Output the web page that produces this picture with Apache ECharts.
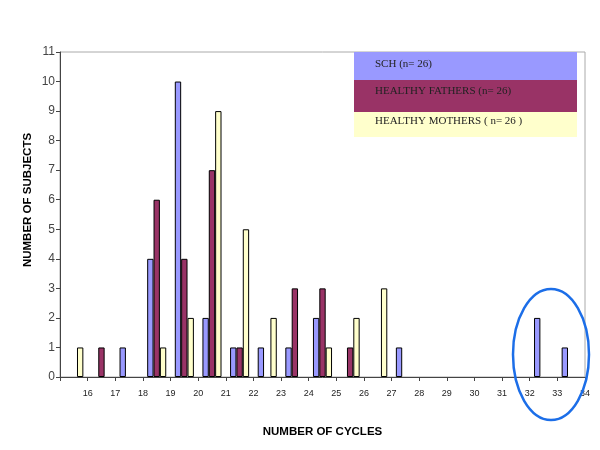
<!DOCTYPE html>
<html>
<head>
<meta charset="utf-8">
<script src="https://cdn.jsdelivr.net/npm/echarts@6/dist/echarts.min.js"></script>
<style>
  html, body { margin: 0; padding: 0; background: #fff; }
  #main { width: 600px; height: 450px; }
</style>
</head>
<body>
<div id="main"></div>
<script>
// cycle bins (one band each), tick labels sit on the band edges
const categories = ['15','16','17','18','19','20','21','22','23','24','25','26','27','28','29','30','31','32','33']
const tickLabels = [16,17,18,19,20,21,22,23,24,25,26,27,28,29,30,31,32,33,34]
const sch     = [0,0,1,4,10,2,1,1,1,2,0,0,1,0,0,0,0,2,1]
const fathers = [0,1,0,6,4,7,1,0,3,3,1,0,0,0,0,0,0,0,0]
const mothers = [1,0,0,1,2,9,5,2,0,1,2,3,0,0,0,0,0,0,0]
const seriesNames = ['SCH (n= 26)', 'HEALTHY FATHERS (n= 26)', 'HEALTHY MOTHERS ( n= 26 )']
const colors = ['#9999FF', '#993366', '#FFFFCC']

const myChart = echarts.init(document.getElementById('main'))

function barSeries(name, data, color) {
  return {
    name: name,
    type: 'bar',
    xAxisIndex: 0,
    // empty bins: no bar at all (a zero bar would leave a border stub)
    data: data.map(v => v === 0 ? '-' : v),
    barGap: '0%',
    barCategoryGap: '31%',
    itemStyle: { color: color, borderColor: '#000', borderWidth: 1 }
  }
}

const titleFont = { fontFamily: 'Arial, Liberation Sans, sans-serif', fontSize: 11.5, fontWeight: 'bold', color: '#000' }

const option = {
  animation: false,
  grid: { left: 60, right: 15, top: 52, bottom: 73, show: true, borderColor: '#aaa', borderWidth: 1 },
  xAxis: [{
    type: 'category',
    data: categories,
    axisLine: { show: false },
    axisTick: { show: false },
    axisLabel: { show: false }
  }, {
    // label axis: ticks and labels on the band edges
    type: 'value',
    position: 'bottom',
    min: 15,
    max: 34,
    interval: 1,
    splitLine: { show: false },
    axisLine: { lineStyle: { color: '#444', width: 1 } },
    axisTick: { length: 4, lineStyle: { color: '#444' } },
    axisLabel: {
      fontFamily: 'Arial, Liberation Sans, sans-serif',
      fontSize: 9,
      color: '#222',
      margin: 12,
      formatter: function (v) { return tickLabels.indexOf(v) >= 0 ? String(v) : '' }
    },
    name: 'NUMBER OF CYCLES',
    nameLocation: 'middle',
    nameGap: 49,
    nameTextStyle: titleFont
  }],
  yAxis: {
    type: 'value',
    min: 0,
    max: 11,
    interval: 1,
    splitLine: { show: false },
    axisLine: { show: true, lineStyle: { color: '#444', width: 1 } },
    axisTick: { show: true, length: 4, lineStyle: { color: '#444' } },
    axisLabel: { fontFamily: 'Arial, Liberation Sans, sans-serif', fontSize: 12, color: '#444', margin: 5 }
  },
  series: [
    barSeries(seriesNames[0], sch, colors[0]),
    barSeries(seriesNames[1], fathers, colors[1]),
    barSeries(seriesNames[2], mothers, colors[2])
  ],
  //图例色块 + 纵轴标题 + 圈注
  graphic: [
    { type: 'rect', left: 354, top: 52, shape: { width: 223, height: 28 }, style: { fill: colors[0] } },
    { type: 'rect', left: 354, top: 80, shape: { width: 223, height: 32 }, style: { fill: colors[1] } },
    { type: 'rect', left: 354, top: 112, shape: { width: 223, height: 25 }, style: { fill: colors[2] } },
    { type: 'text', left: 375, top: 59, style: { text: seriesNames[0], fill: '#222', font: '11px "Liberation Serif", "DejaVu Serif", serif' } },
    { type: 'text', left: 375, top: 86, style: { text: seriesNames[1], fill: '#222', font: '11px "Liberation Serif", "DejaVu Serif", serif' } },
    { type: 'text', left: 375, top: 116, style: { text: seriesNames[2], fill: '#222', font: '11px "Liberation Serif", "DejaVu Serif", serif' } },
    {
      type: 'text',
      x: 28,
      y: 200,
      rotation: Math.PI / 2,
      style: {
        text: 'NUMBER OF SUBJECTS',
        fill: '#000',
        font: 'bold 11.5px Arial, "Liberation Sans", sans-serif',
        align: 'center',
        verticalAlign: 'middle'
      }
    },
    {
      type: 'ellipse',
      shape: { cx: 551, cy: 354.5, rx: 38, ry: 65.5 },
      style: { fill: 'none', stroke: '#1c6ee8', lineWidth: 2.5 },
      z: 100
    }
  ]
}
myChart.setOption(option)
</script>
</body>
</html>
